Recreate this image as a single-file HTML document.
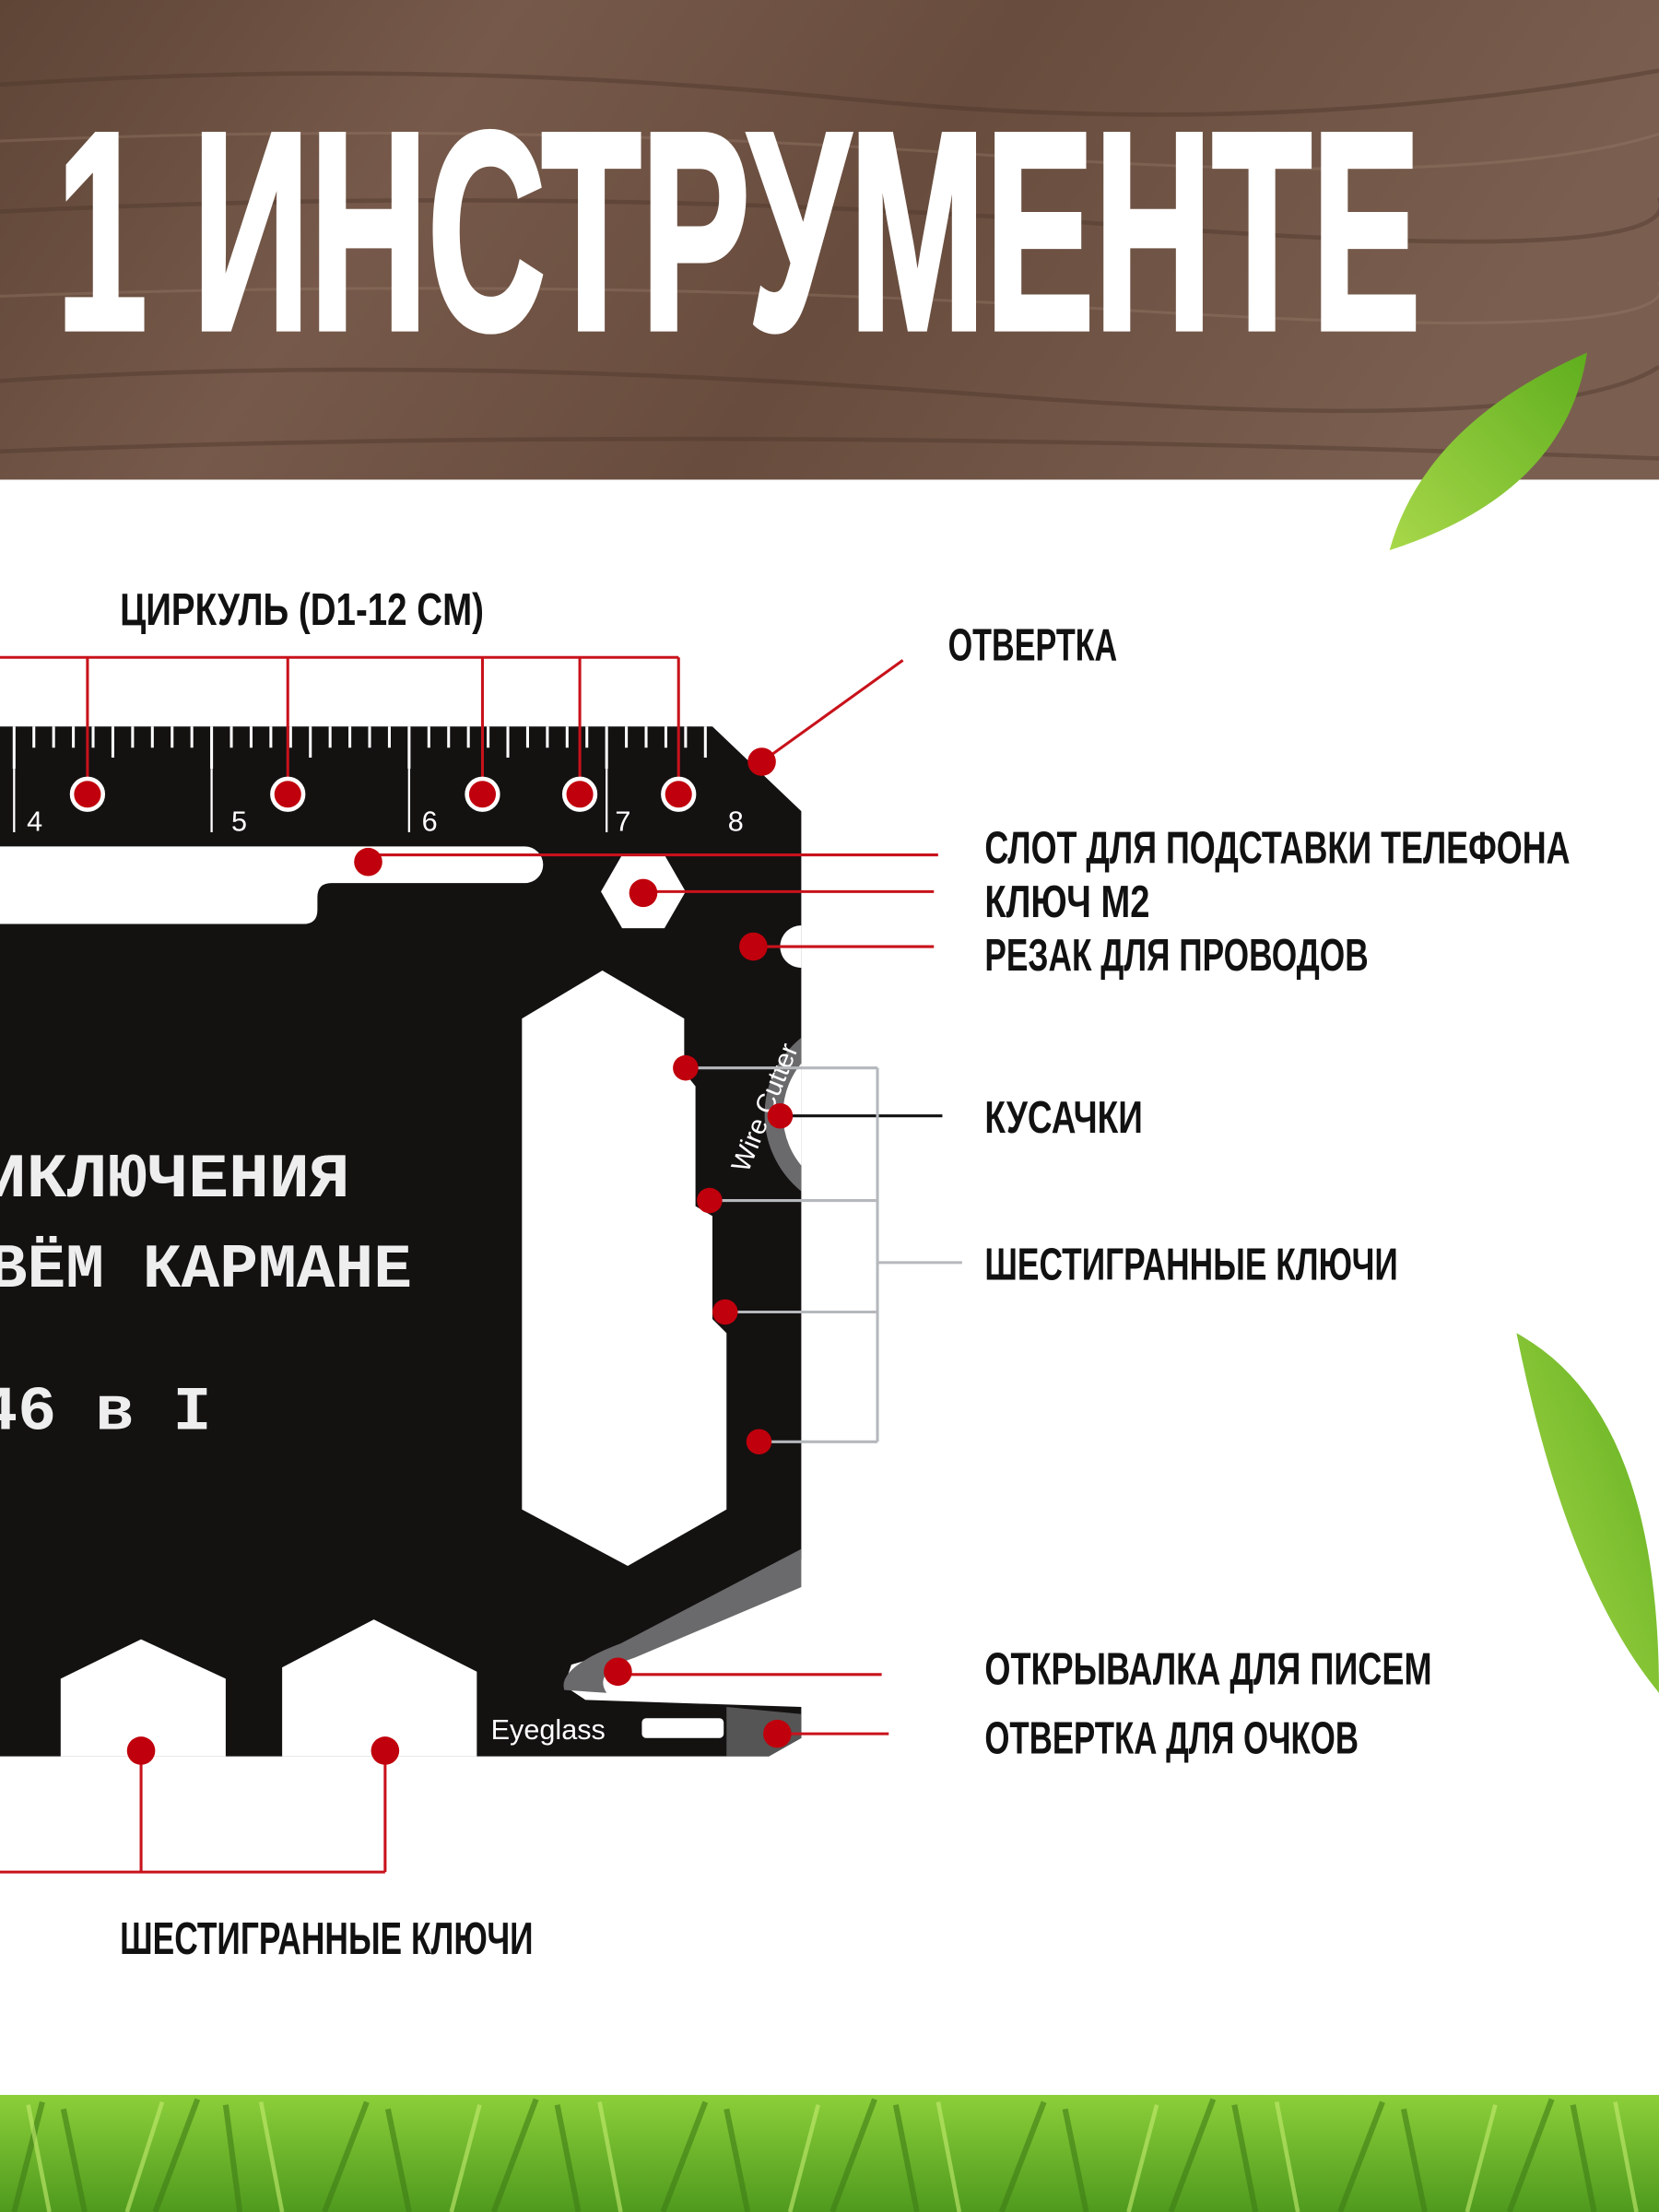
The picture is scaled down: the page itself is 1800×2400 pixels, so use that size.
<!DOCTYPE html>
<html><head><meta charset="utf-8"><style>
html,body{margin:0;padding:0;width:1800px;height:2400px;overflow:hidden;background:#fff}
svg{display:block}
.lb{font-family:"Liberation Sans Narrow","Liberation Sans",sans-serif;font-weight:bold;fill:#111;font-size:32px}
.ty{font-family:"Liberation Mono",monospace;font-weight:bold;fill:#eee;font-size:44px}
</style></head><body>
<svg width="1800" height="2400" viewBox="0 0 1176 1568" preserveAspectRatio="none" xmlns="http://www.w3.org/2000/svg">
<defs>
<linearGradient id="wood" x1="0" y1="0" x2="1" y2="0.2">
<stop offset="0" stop-color="#5e4536"/><stop offset="0.3" stop-color="#76594a"/><stop offset="0.6" stop-color="#684c3d"/><stop offset="1" stop-color="#7a5f50"/></linearGradient>
<linearGradient id="leaf" x1="0" y1="1" x2="1" y2="0"><stop offset="0" stop-color="#a8d84a"/><stop offset="1" stop-color="#5fae1e"/></linearGradient>
<linearGradient id="grass" x1="0" y1="0" x2="0" y2="1"><stop offset="0" stop-color="#8ccf3a"/><stop offset="1" stop-color="#4f9a1e"/></linearGradient>
<clipPath id="cc"><rect x="0" y="0" width="568" height="1568"/></clipPath>
</defs>
<rect x="0" y="0" width="1176" height="340" fill="url(#wood)"/>
<g stroke="#4e382b" stroke-width="3" opacity="0.45" fill="none">
<path d="M0 60 Q300 40 600 70 T1176 50"/><path d="M0 150 Q400 130 800 160 T1176 140"/><path d="M0 270 Q300 250 700 280 T1176 260"/><path d="M0 320 Q500 300 1176 325"/>
</g>
<g stroke="#9a7f6e" stroke-width="2" opacity="0.35" fill="none">
<path d="M0 100 Q350 85 700 110 T1176 95"/><path d="M0 210 Q400 195 800 220 T1176 200"/></g>
<text x="40" y="233" font-family="Liberation Sans Narrow,Liberation Sans,sans-serif" font-weight="bold" font-size="200" fill="#fff" stroke="#fff" stroke-width="4" textLength="967" lengthAdjust="spacingAndGlyphs">1 ИНСТРУМЕНТЕ</text>
<path d="M985 390 Q1010 300 1125 250 Q1110 350 985 390Z" fill="url(#leaf)"/>
<path d="M1075 945 Q1176 1000 1176 1200 Q1110 1120 1075 945Z" fill="url(#leaf)"/>
<!-- card -->
<path d="M0 515 L505 515 L568 575 L568 1105 L440 1170 L405 1180 L400 1195 L415 1205 L568 1210 L568 1232 L545 1245 L0 1245Z" fill="#141111"/>
<path d="M568 1098 L568 1125 L450 1175 Q420 1185 430 1200 L400 1198 Q395 1182 440 1165Z" fill="#6a6a6c"/>
<path d="M515 1210 L568 1215 L568 1232 L545 1245 L515 1245Z" fill="#555"/>
<g stroke="#fff" stroke-width="2">
<path d="M10 515v30M24 515v15M38 515v15M52 515v15M66 515v15M80 515v22M94 515v15M108 515v15M122 515v15M136 515v15M150 515v30M164 515v15M178 515v15M192 515v15M206 515v15M220 515v22M234 515v15M248 515v15M262 515v15M276 515v15M290 515v30M304 515v15M318 515v15M332 515v15M346 515v15M360 515v22M374 515v15M388 515v15M402 515v15M416 515v15M430 515v30M444 515v15M458 515v15M472 515v15M486 515v15M500 515v22"/>
<path d="M10 545v45M150 545v45M290 545v45M430 545v45" stroke-width="1.5"/>
</g>
<g font-family="Liberation Sans,sans-serif" font-size="20" fill="#fff">
<text x="19" y="589">4</text><text x="164" y="589">5</text><text x="299" y="589">6</text><text x="436" y="589">7</text><text x="516" y="589">8</text></g>
<path d="M0 600 H372 A13 13 0 0 1 372 626 H235 Q225 626 225 636 V645 Q225 655 215 655 H0Z" fill="#fff"/>
<polygon points="426,632 441,606 471,606 486,632 471,658 441,658" fill="#fff"/>
<path d="M568 656 A15 15 0 0 0 568 686Z" fill="#fff"/>
<polygon points="427,688 485,722 485,760 493,770 493,855 505,862 505,935 515,945 515,1070 445,1110 370,1070 370,722" fill="#fff"/>
<g clip-path="url(#cc)">
<circle cx="612" cy="790" r="70" fill="#6a6a6c"/>
<circle cx="612" cy="790" r="57" fill="#fff"/>
</g>
<text x="0" y="0" transform="translate(530,832) rotate(-68)" font-family="Liberation Sans,sans-serif" font-size="19" fill="#fff">Wire Cutter</text>
<polygon points="43,1245 43,1190 100,1162 160,1190 160,1245" fill="#fff"/>
<polygon points="200,1245 200,1182 265,1148 338,1185 338,1245" fill="#fff"/>
<text x="348" y="1233" font-family="Liberation Sans,sans-serif" font-size="20" fill="#fff">Eyeglass</text>
<rect x="455" y="1218" width="58" height="14" rx="3" fill="#fff"/>
<text class="ty" x="-10" y="848" textLength="258" lengthAdjust="spacingAndGlyphs">ИКЛЮЧЕНИЯ</text>
<text class="ty" x="-8" y="912" textLength="300" lengthAdjust="spacingAndGlyphs">ВЁМ КАРМАНЕ</text>
<text class="ty" x="-15" y="1013" textLength="165" lengthAdjust="spacingAndGlyphs">46 в I</text>
<!-- connectors -->
<g stroke="#c8121b" stroke-width="2" fill="none">
<path d="M0 466 H481 M62 466 V563 M204 466 V563 M342 466 V563 M411 466 V563 M481 466 V563"/>
<path d="M540 540 L640 468"/>
<path d="M261 606 H665 M456 632 H662 M534 671 H662"/>
<path d="M438 1187 H625 M551 1229 H630"/>
<path d="M100 1241 V1327 M273 1241 V1327 M0 1327 H273"/>
</g>
<path d="M553 791 H668" stroke="#111" stroke-width="2"/>
<g stroke="#b5b8bc" stroke-width="2" fill="none">
<path d="M486 757 H622 M503 851 H622 M514 930 H622 M538 1022 H622 M622 757 V1022 M622 895 H682"/></g>
<g fill="#c0000c" stroke="#fff" stroke-width="3">
<circle cx="62" cy="563" r="11"/><circle cx="204" cy="563" r="11"/><circle cx="342" cy="563" r="11"/><circle cx="411" cy="563" r="11"/><circle cx="481" cy="563" r="11"/>
<circle cx="540" cy="540" r="10" stroke="none"/><circle cx="261" cy="611" r="10" stroke="none"/><circle cx="456" cy="633" r="10" stroke="none"/><circle cx="534" cy="671" r="10" stroke="none"/>
<circle cx="486" cy="757" r="9" stroke="none"/><circle cx="553" cy="791" r="9" stroke="none"/><circle cx="503" cy="851" r="9" stroke="none"/><circle cx="514" cy="930" r="9" stroke="none"/><circle cx="538" cy="1022" r="9" stroke="none"/>
<circle cx="438" cy="1185" r="10" stroke="none"/><circle cx="551" cy="1229" r="10" stroke="none"/><circle cx="100" cy="1241" r="10" stroke="none"/><circle cx="273" cy="1241" r="10" stroke="none"/>
</g>
<!-- labels -->
<text class="lb" x="85" y="443" textLength="258" lengthAdjust="spacingAndGlyphs">ЦИРКУЛЬ (D1-12 CM)</text>
<text class="lb" x="672" y="468" textLength="120" lengthAdjust="spacingAndGlyphs">ОТВЕРТКА</text>
<text class="lb" x="698" y="612" textLength="415" lengthAdjust="spacingAndGlyphs">СЛОТ ДЛЯ ПОДСТАВКИ ТЕЛЕФОНА</text>
<text class="lb" x="698" y="650" textLength="117" lengthAdjust="spacingAndGlyphs">КЛЮЧ М2</text>
<text class="lb" x="698" y="688" textLength="272" lengthAdjust="spacingAndGlyphs">РЕЗАК ДЛЯ ПРОВОДОВ</text>
<text class="lb" x="698" y="803" textLength="112" lengthAdjust="spacingAndGlyphs">КУСАЧКИ</text>
<text class="lb" x="698" y="907" textLength="293" lengthAdjust="spacingAndGlyphs">ШЕСТИГРАННЫЕ КЛЮЧИ</text>
<text class="lb" x="698" y="1194" textLength="317" lengthAdjust="spacingAndGlyphs">ОТКРЫВАЛКА ДЛЯ ПИСЕМ</text>
<text class="lb" x="698" y="1243" textLength="265" lengthAdjust="spacingAndGlyphs">ОТВЕРТКА ДЛЯ ОЧКОВ</text>
<text class="lb" x="85" y="1385" textLength="293" lengthAdjust="spacingAndGlyphs">ШЕСТИГРАННЫЕ КЛЮЧИ</text>
<!-- grass -->
<rect x="0" y="1485" width="1176" height="83" fill="url(#grass)"/>
<g stroke="#3f7d17" stroke-width="4" opacity="0.6">
<path d="M10 1568 L30 1490 M60 1568 L45 1495 M110 1568 L140 1488 M170 1568 L160 1492 M230 1568 L260 1490 M290 1568 L275 1495 M350 1568 L380 1488 M410 1568 L395 1492 M470 1568 L500 1490 M530 1568 L515 1495 M590 1568 L620 1488 M650 1568 L635 1492 M710 1568 L740 1490 M770 1568 L755 1495 M830 1568 L860 1488 M890 1568 L875 1492 M950 1568 L980 1490 M1010 1568 L995 1495 M1070 1568 L1100 1488 M1130 1568 L1115 1492"/></g>
<g stroke="#c5ec70" stroke-width="3" opacity="0.6">
<path d="M35 1568 L20 1492 M90 1568 L115 1490 M200 1568 L185 1490 M320 1568 L340 1492 M440 1568 L425 1490 M560 1568 L580 1492 M680 1568 L665 1490 M800 1568 L820 1492 M920 1568 L905 1490 M1040 1568 L1060 1492 M1160 1568 L1145 1490"/></g>
</svg>
</body></html>
